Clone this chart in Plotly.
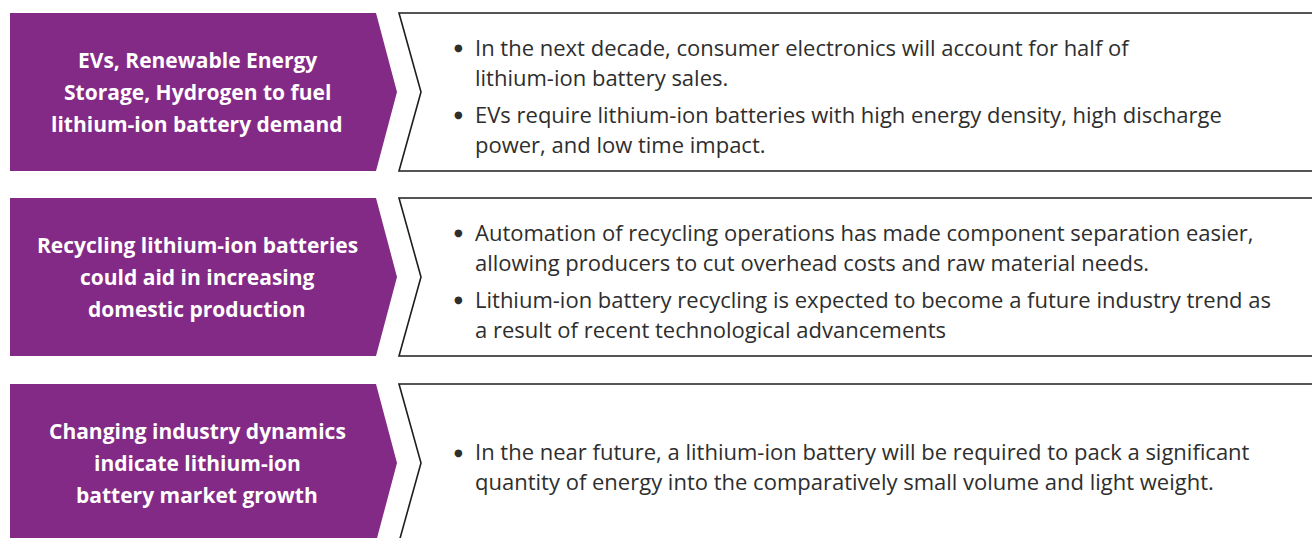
import plotly.graph_objects as go

# ---- content ----
headlines = [
    ["EVs, Renewable Energy", "Storage, Hydrogen to fuel", "lithium-ion battery demand"],
    ["Recycling lithium-ion batteries", "could aid in increasing", "domestic production"],
    ["Changing industry dynamics", "indicate lithium-ion", "battery market growth"],
]
bullets = [
    [
        ["In the next decade, consumer electronics will account for half of",
         "lithium-ion battery sales."],
        ["EVs require lithium-ion batteries with high energy density, high discharge",
         "power, and low time impact."],
    ],
    [
        ["Automation of recycling operations has made component separation easier,",
         "allowing producers to cut overhead costs and raw material needs."],
        ["Lithium-ion battery recycling is expected to become a future industry trend as",
         "a result of recent technological advancements"],
    ],
    [
        ["In the near future, a lithium-ion battery will be required to pack a significant",
         "quantity of energy into the comparatively small volume and light weight."],
    ],
]

# ---- layout constants ----
W, H = 1312, 538
PURPLE = "#832A86"
TEXT = "#2E2E2E"
row_tops = [13, 198, 384]
row_h = 158
left_x0, left_x1, tip_x = 10, 376, 397
box_x0, notch_x = 399, 421
head_cx = 197
bullet_x, text_x = 458, 473
head_lh = 32
body_lh = 30
bullet_gap = 37
HEAD_FONT = dict(family="Open Sans, sans-serif", size=21, color="white")
BODY_FONT = dict(family="Open Sans, sans-serif", size=22, color=TEXT)
DOT_FONT = dict(family="DejaVu Sans, sans-serif", size=10, color=TEXT)

fig = go.Figure()
shapes = []
annotations = []

for i, top in enumerate(row_tops):
    bot = top + row_h
    mid = top + row_h / 2
    shapes.append(dict(
        type="path",
        path=f"M{left_x0},{top} L{left_x1},{top} L{tip_x},{mid} L{left_x1},{bot} L{left_x0},{bot} Z",
        fillcolor=PURPLE, line=dict(width=0), layer="below"))
    shapes.append(dict(
        type="path",
        path=f"M{W + 20},{top} L{box_x0},{top} L{notch_x},{mid} L{box_x0},{bot} L{W + 20},{bot}",
        line=dict(color="#1E1E1E", width=1.6), layer="below"))

    n = len(headlines[i])
    for j, line in enumerate(headlines[i]):
        y = mid + (j - (n - 1) / 2) * head_lh
        annotations.append(dict(x=head_cx, y=y, text=f"<b>{line}</b>", showarrow=False,
                                xanchor="center", yanchor="middle", font=HEAD_FONT))

    total = 0
    for k, b in enumerate(bullets[i]):
        total += (len(b) - 1) * body_lh
        if k > 0:
            total += bullet_gap
    y = mid + 3 - total / 2
    for k, b in enumerate(bullets[i]):
        if k > 0:
            y += bullet_gap
        annotations.append(dict(x=bullet_x, y=y + 1, text="●", showarrow=False,
                                xanchor="center", yanchor="middle", font=DOT_FONT))
        for j, line in enumerate(b):
            if j > 0:
                y += body_lh
            annotations.append(dict(x=text_x, y=y, text=line, showarrow=False,
                                    xanchor="left", yanchor="middle", font=BODY_FONT))

fig.update_layout(
    width=W, height=H,
    margin=dict(l=0, r=0, t=0, b=0),
    paper_bgcolor="white", plot_bgcolor="white",
    xaxis=dict(range=[0, W], visible=False, fixedrange=True),
    yaxis=dict(range=[H, 0], visible=False, fixedrange=True),
    shapes=shapes, annotations=annotations, showlegend=False,
)
fig.write_html("out.html", config={"displayModeBar": False},
               post_script="document.body.style.margin='0';document.body.style.overflow='hidden';")
